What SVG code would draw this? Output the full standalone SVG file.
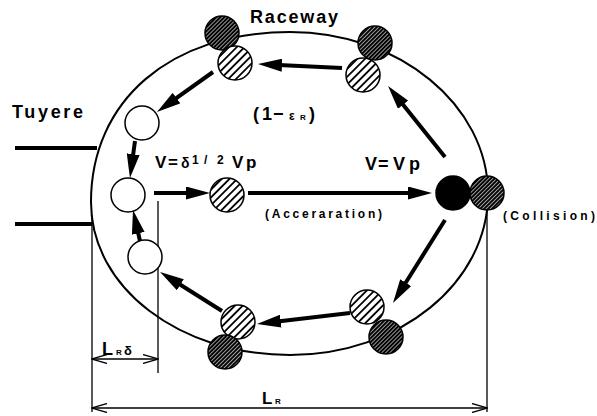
<svg xmlns="http://www.w3.org/2000/svg" width="597" height="416" viewBox="0 0 597 416">
<style>
.t{font-family:"Liberation Sans",Arial,sans-serif;font-weight:bold;fill:#000}
.ol{fill:none;stroke:#000;stroke-width:2}
.tuy{stroke:#000;stroke-width:4}
.arr{stroke:#000;stroke-width:4;fill:none;marker-end:url(#ah)}
.dim{stroke:#000;stroke-width:1.3;fill:none}
.da{marker-start:url(#va);marker-end:url(#va)}
.open{fill:#fff;stroke:#000;stroke-width:1.5}
.light{fill:url(#hl);stroke:#000;stroke-width:1.5}
.dark{fill:url(#hd);stroke:#000;stroke-width:1.5}
.solid{fill:#000;stroke:#000;stroke-width:1.5}
</style>
<defs>
<pattern id="hl" patternUnits="userSpaceOnUse" width="5.5" height="5.5" patternTransform="rotate(45)">
<rect width="5.5" height="5.5" fill="#fff"/>
<line x1="2.75" y1="-1" x2="2.75" y2="6.5" stroke="#000" stroke-width="1.8"/>
</pattern>
<pattern id="hd" patternUnits="userSpaceOnUse" width="2.8" height="2.8" patternTransform="rotate(45)">
<rect width="2.8" height="2.8" fill="#000"/>
<line x1="1.4" y1="-1" x2="1.4" y2="4" stroke="#fff" stroke-width="0.6"/>
</pattern>
<marker id="ah" markerUnits="userSpaceOnUse" markerWidth="24" markerHeight="13" refX="14" refY="6.5" orient="auto">
<path d="M0,0 L24,6.5 L0,13 Z" fill="#000"/>
</marker>
<marker id="va" markerUnits="userSpaceOnUse" markerWidth="16" markerHeight="10" refX="15" refY="5" orient="auto-start-reverse">
<path d="M0,0.5 L15,5 L0,9.5" fill="none" stroke="#000" stroke-width="1.3"/>
</marker>
</defs>

<!-- raceway outline and tuyere -->
<path class="ol" d="M290,32 C399,32 488,105 488,194 C488,283 399,355 290,355 C180,355 91,288 91,202 C91,101 170,32 290,32 Z"/>
<line class="tuy" x1="15" y1="148" x2="97" y2="148"/>
<line class="tuy" x1="15" y1="224" x2="92" y2="224"/>

<!-- dimension lines -->
<g id="dimensions">
<line class="dim" x1="92" y1="215" x2="92" y2="412"/>
<line class="dim" x1="158" y1="201" x2="158" y2="373"/>
<line class="dim" x1="487" y1="205" x2="487" y2="412"/>
<line class="dim da" x1="92" y1="359" x2="158" y2="359"/>
<line class="dim da" x1="92" y1="408" x2="487" y2="408"/>
</g>

<!-- connectors -->
<g id="connectors">
<line class="arr" x1="342" y1="68" x2="268" y2="64.5"/>
<line class="arr" x1="213" y1="72" x2="165.1" y2="106.2"/>
<line class="arr" x1="135" y1="141" x2="131.3" y2="168.1"/>
<line class="arr" x1="140" y1="241" x2="135.2" y2="219.7"/>
<line class="arr" x1="222" y1="311" x2="168.5" y2="277.3"/>
<line class="arr" x1="350" y1="313" x2="266.9" y2="322.8"/>
<line class="arr" x1="445" y1="220" x2="398.3" y2="294.5"/>
<line class="arr" x1="445" y1="157" x2="394.3" y2="93.8"/>
<line class="arr" x1="154" y1="193" x2="200" y2="193"/>
<line class="arr" x1="248" y1="193" x2="422" y2="193"/>
</g>

<!-- particles -->
<g id="p-top-left-wall"><circle class="dark" cx="222" cy="33" r="17"/></g>
<g id="p-top-left"><circle class="light" cx="235" cy="63" r="17"/></g>
<g id="p-top-right-wall"><circle class="dark" cx="375" cy="43" r="17"/></g>
<g id="p-top-right"><circle class="light" cx="363" cy="75" r="17"/></g>
<g id="p-left-1"><circle class="open" cx="142" cy="123" r="17"/></g>
<g id="p-left-2"><circle class="open" cx="128" cy="195" r="17"/></g>
<g id="p-left-3"><circle class="open" cx="145" cy="257" r="17"/></g>
<g id="p-accel"><circle class="light" cx="227" cy="195" r="17"/></g>
<g id="p-fast"><circle class="solid" cx="453" cy="193" r="17"/></g>
<g id="p-collision"><circle class="dark" cx="487" cy="193" r="17"/></g>
<g id="p-bottom-right"><circle class="light" cx="367" cy="307" r="17"/></g>
<g id="p-bottom-right-wall"><circle class="dark" cx="386" cy="337" r="17"/></g>
<g id="p-bottom-left"><circle class="light" cx="238" cy="322" r="17"/></g>
<g id="p-bottom-left-wall"><circle class="dark" cx="225" cy="352" r="17"/></g>

<!-- labels -->
<text class="t" x="250" y="23" font-size="18" textLength="88" lengthAdjust="spacing">Raceway</text>
<text class="t" x="12" y="118" font-size="18" textLength="71" lengthAdjust="spacing">Tuyere</text>
<text class="t" font-size="18" y="120"><tspan x="253">(</tspan><tspan x="262">1</tspan><tspan x="273">−</tspan><tspan x="289" font-size="12">ε</tspan><tspan x="300" font-size="8">R</tspan><tspan x="309">)</tspan></text>
<text class="t" font-size="17" y="168"><tspan x="155">V</tspan><tspan x="168">=</tspan><tspan x="181" font-size="14">δ</tspan><tspan x="192" y="164" font-size="12">1</tspan><tspan x="204" y="164" font-size="12">/</tspan><tspan x="217" y="164" font-size="12">2</tspan><tspan x="232" y="168">V</tspan><tspan x="246">p</tspan></text>
<text class="t" font-size="18" y="170"><tspan x="365">V</tspan><tspan x="378">=</tspan><tspan x="393">V</tspan><tspan x="409">p</tspan></text>
<text class="t" x="265" y="218" font-size="12" textLength="117" lengthAdjust="spacing">(Acceraration)</text>
<text class="t" x="503" y="220" font-size="12" textLength="92" lengthAdjust="spacing">(Collision)</text>
<text class="t" font-size="18" y="355"><tspan x="102">L</tspan><tspan x="116" font-size="8">R</tspan><tspan x="124" font-size="13">δ</tspan></text>
<text class="t" font-size="17" y="404"><tspan x="262">L</tspan><tspan x="275" font-size="8">R</tspan></text>
</svg>
